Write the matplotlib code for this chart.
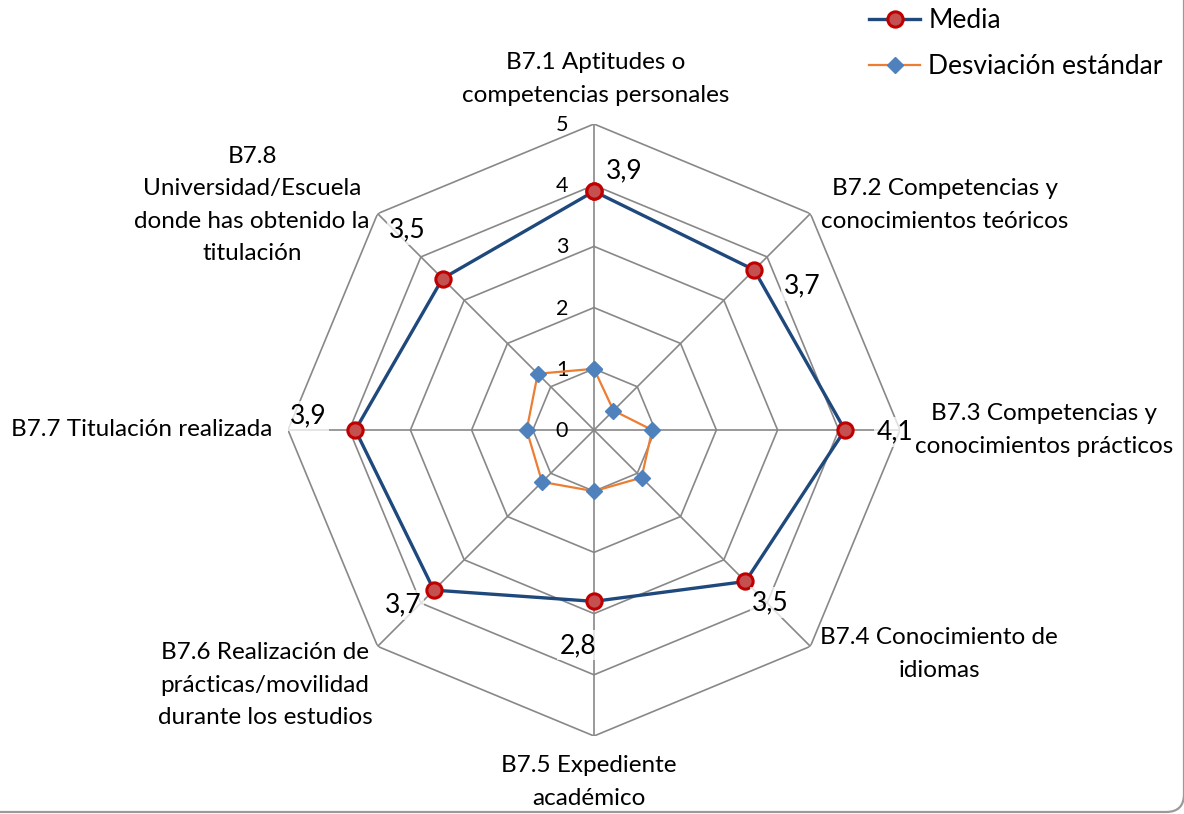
import numpy as np
import matplotlib
matplotlib.use("Agg")
import matplotlib.pyplot as plt
from matplotlib.patches import FancyBboxPatch
from matplotlib.transforms import IdentityTransform
from matplotlib.lines import Line2D

plt.rcParams['font.family'] = ['Lato', 'DejaVu Sans']

categories = [
    "B7.1 Aptitudes o\ncompetencias personales",
    "B7.2 Competencias y\nconocimientos teóricos",
    "B7.3 Competencias y\nconocimientos prácticos",
    "B7.4 Conocimiento de\nidiomas",
    "B7.5 Expediente\nacadémico",
    "B7.6 Realización de\nprácticas/movilidad\ndurante los estudios",
    "B7.7 Titulación realizada",
    "B7.8\nUniversidad/Escuela\ndonde has obtenido la\ntitulación",
]
media = [3.9, 3.7, 4.1, 3.5, 2.8, 3.7, 3.9, 3.5]
desviacion = [1.0, 0.45, 0.95, 1.1, 1.0, 1.2, 1.1, 1.3]
media_labels = ["3,9", "3,7", "4,1", "3,5", "2,8", "3,7", "3,9", "3,5"]
r_ticks = [0, 1, 2, 3, 4, 5]

# layout (pixels)
W, H = 1184, 814
cx, cy, R = 594, 430, 306
cat_pos = [(596, 79), (945, 205), (1044, 430), (939, 654),
           (589, 782), (265, 685), (142, 430), (252, 205)]
lab_off = [(30, -21), (48, 16), (50, 2), (25, 21),
           (-16, 44), (-31, 15), (-47, -14), (-35, -49)]

fig = plt.figure(figsize=(W / 100, H / 100), dpi=100)
ax = fig.add_axes([(cx - R) / W, (H - cy - R) / H, 2 * R / W, 2 * R / H],
                  projection='polar')
ax.set_theta_zero_location('N')
ax.set_theta_direction(-1)
ax.set_ylim(0, 5)
ax.axis('off')

n = len(categories)
theta = np.arange(n) * 2 * np.pi / n
theta_c = np.append(theta, theta[0])

grid_c = '#888888'
for r in r_ticks[1:]:
    ax.plot(theta_c, [r] * (n + 1), color=grid_c, lw=1.2, zorder=1)
for t in theta:
    ax.plot([t, t], [0, 5], color=grid_c, lw=1.2, zorder=1)

for r in r_ticks:
    ax.annotate(str(r), xy=(0, r), xytext=(-32 * 0.72, 1 * -0.72),
                textcoords='offset points', ha='center', va='center',
                fontsize=15.5, color='#000000', zorder=2)

ax.plot(theta_c, desviacion + desviacion[:1], color='#ED7D31', lw=1.6,
        marker='D', markersize=8, markerfacecolor='#4F81BD',
        markeredgecolor='#4F81BD', zorder=3)
ax.plot(theta_c, media + media[:1], color='#1F497D', lw=2.4,
        marker='o', markersize=11, markerfacecolor='#C55050',
        markeredgecolor='#C00000', markeredgewidth=2.2, zorder=4)

for t, v, s, (dx, dy) in zip(theta, media, media_labels, lab_off):
    ax.annotate(s, xy=(t, v), xytext=(dx * 0.72, -dy * 0.72),
                textcoords='offset points', ha='center', va='center',
                fontsize=19, zorder=5,
                bbox=dict(boxstyle='square,pad=0.1', fc='white', ec='none', alpha=0.75))

for lab, (px, py) in zip(categories, cat_pos):
    fig.text(px / W, 1 - py / H, lab, ha='center', va='center',
             fontsize=17.5, linespacing=1.65)

handles = [
    Line2D([], [], color='#1F497D', lw=2.4, marker='o', markersize=11,
           markerfacecolor='#C55050', markeredgecolor='#C00000', markeredgewidth=2.2),
    Line2D([], [], color='#ED7D31', lw=1.6, marker='D', markersize=8,
           markerfacecolor='#4F81BD', markeredgecolor='#4F81BD'),
]
fig.legend(handles, ["Media", "Desviación estándar"], loc='upper left',
           bbox_to_anchor=(869 / W, 1 - 8 / H), frameon=False, fontsize=19,
           handlelength=1.95, handletextpad=0.3, labelspacing=0.8,
           borderpad=0, borderaxespad=0)

box = FancyBboxPatch((-40, 2), 1184 + 40, 900, boxstyle='round,pad=0,rounding_size=18',
                     transform=IdentityTransform(), fc='none', ec='#9a9a9a', lw=1.6)
fig.patches.append(box)

fig.savefig('out.png', dpi=100)
